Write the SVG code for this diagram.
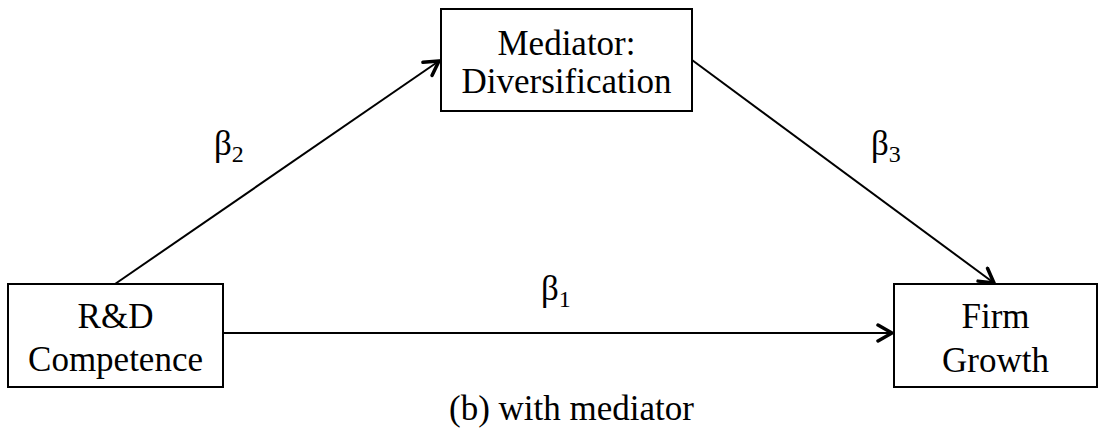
<svg xmlns="http://www.w3.org/2000/svg" width="1105" height="441" viewBox="0 0 1105 441">
<defs>
<style>
.box{fill:#fff;stroke:#000;stroke-width:2}
.ln{stroke:#000;stroke-width:2;fill:none}
</style>
<marker id="ah" viewBox="0 0 20 20" refX="17" refY="10" markerWidth="20" markerHeight="20" markerUnits="userSpaceOnUse" orient="auto">
<path d="M3,2 L17,10 L3,18" fill="none" stroke="#000" stroke-width="3.5" stroke-linejoin="miter" stroke-linecap="round"/>
</marker>
</defs>
<rect width="1105" height="441" fill="#fff"/>
<g id="connectors">
<line class="ln" x1="223" y1="333" x2="892" y2="333" marker-end="url(#ah)"/>
<line class="ln" x1="115" y1="284" x2="439" y2="61" marker-end="url(#ah)"/>
<line class="ln" x1="692" y1="60" x2="994" y2="283" marker-end="url(#ah)"/>
</g>
<g id="node-rd">
<rect class="box" x="8" y="284" width="215" height="103"/>
<text x="115.5" y="328" style="font-family:'Liberation Serif',serif;font-size:35px;text-anchor:middle">R&amp;D</text>
<text x="115.5" y="371" style="font-family:'Liberation Serif',serif;font-size:35px;text-anchor:middle">Competence</text>
</g>
<g id="node-mediator">
<rect class="box" x="441" y="9" width="251" height="102"/>
<text x="566.5" y="55" style="font-family:'Liberation Serif',serif;font-size:35px;text-anchor:middle">Mediator:</text>
<text x="566.5" y="93" style="font-family:'Liberation Serif',serif;font-size:35px;text-anchor:middle">Diversification</text>
</g>
<g id="node-firm">
<rect class="box" x="894" y="284" width="203" height="103"/>
<text x="995.5" y="328" style="font-family:'Liberation Serif',serif;font-size:35px;text-anchor:middle">Firm</text>
<text x="995.5" y="372" style="font-family:'Liberation Serif',serif;font-size:35px;text-anchor:middle">Growth</text>
</g>
<g id="labels">
<text x="214" y="155" style="font-family:'Liberation Serif',serif;font-size:35px">β<tspan dy="7" style="font-size:24px">2</tspan></text>
<text x="871" y="155" style="font-family:'Liberation Serif',serif;font-size:35px">β<tspan dy="7" style="font-size:24px">3</tspan></text>
<text x="541" y="300" style="font-family:'Liberation Serif',serif;font-size:35px">β<tspan dy="7" style="font-size:24px">1</tspan></text>
<text x="571.5" y="420" style="font-family:'Liberation Serif',serif;font-size:35px;text-anchor:middle">(b) with mediator</text>
</g>
</svg>
